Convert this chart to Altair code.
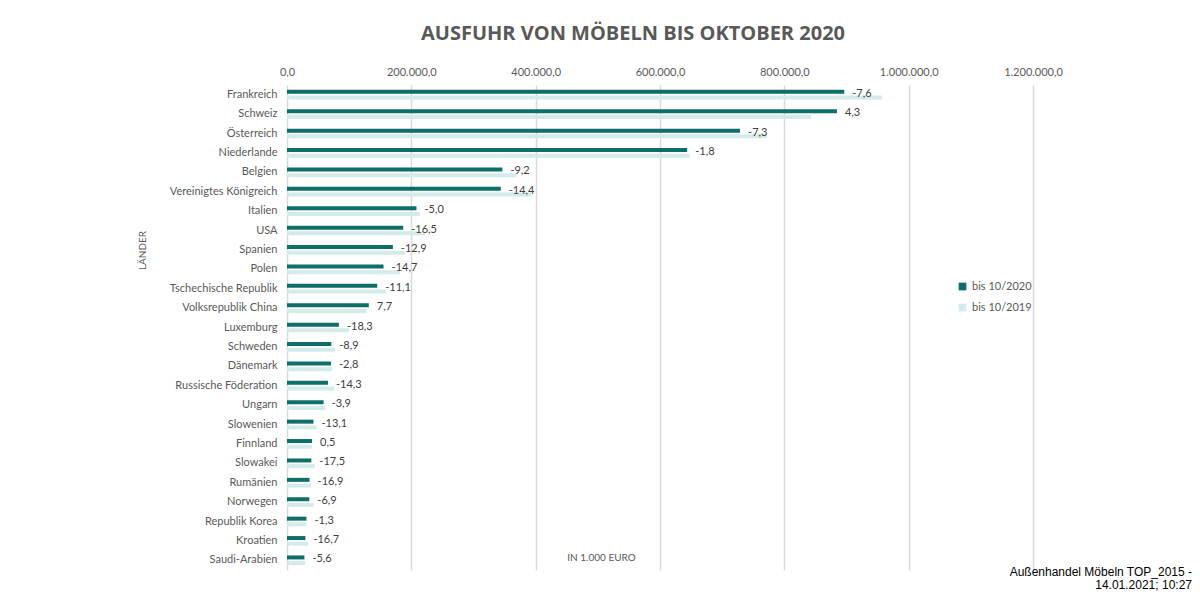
import altair as alt
import pandas as pd

countries = ["Frankreich", "Schweiz", "Österreich", "Niederlande", "Belgien",
             "Vereinigtes Königreich", "Italien", "USA", "Spanien", "Polen",
             "Tschechische Republik", "Volksrepublik China", "Luxemburg", "Schweden",
             "Dänemark", "Russische Föderation", "Ungarn", "Slowenien", "Finnland",
             "Slowakei", "Rumänien", "Norwegen", "Republik Korea", "Kroatien",
             "Saudi-Arabien"]
exports_2020 = [896400, 884600, 728800, 643700, 346500, 343800, 208300, 186900,
                170300, 155300, 145100, 131700, 83500, 71200, 70700, 65900, 58900,
                42600, 40300, 39200, 36300, 35900, 31300, 29600, 28000]
exports_2019 = [956900, 842900, 772200, 647400, 369000, 393000, 214000, 222000,
                190000, 181500, 159000, 128000, 99600, 77100, 72700, 76000, 61300,
                47700, 40100, 44800, 38500, 42600, 31700, 34100, 29600]
change_pct = [-7.6, 4.3, -7.3, -1.8, -9.2, -14.4, -5.0, -16.5, -12.9, -14.7, -11.1,
              7.7, -18.3, -8.9, -2.8, -14.3, -3.9, -13.1, 0.5, -17.5, -16.9, -6.9,
              -1.3, -16.7, -5.6]
series = ["bis 10/2020", "bis 10/2019"]
x_ticks = [0, 200000, 400000, 600000, 800000, 1000000, 1200000]
footer_lines = ["Außenhandel Möbeln TOP_2015 -", "14.01.2021; 10:27"]

rows = []
for c, v20, v19, p in zip(countries, exports_2020, exports_2019, change_pct):
    rows.append({"Land": c, "Zeitraum": series[0], "Wert": v20, "Veraenderung": p})
    rows.append({"Land": c, "Zeitraum": series[1], "Wert": v19, "Veraenderung": p})
df = pd.DataFrame(rows)

grey = "#595959"
font = "Lato"

y_enc = alt.Y("Land:N", sort=countries,
              scale=alt.Scale(paddingInner=0.5, paddingOuter=0.25),
              axis=alt.Axis(title="LÄNDER", titleFont=font, titleFontSize=10,
                            titleFontWeight="normal", titleColor=grey,
                            titleX=-140, titleY=165, titleAngle=-90,
                            labelFont=font, labelFontSize=11, labelColor=grey,
                            labelPadding=10, ticks=False, domain=False))

bars = alt.Chart(df).mark_bar().encode(
    x=alt.X("Wert:Q", scale=alt.Scale(domain=[0, 1200000], nice=False),
            axis=alt.Axis(orient="top", values=x_ticks, format=",.1f",
                          title="IN 1.000 EURO", titleFont=font, titleFontSize=10,
                          titleFontWeight="normal", titleColor=grey,
                          titleX=314, titleY=477, titleAlign="center",
                          labelFont=font, labelFontSize=11, labelColor=grey,
                          labelPadding=8, labelFlush=False, ticks=False,
                          domain=False, grid=True, gridColor="#d9d9d9",
                          gridWidth=1.5)),
    y=y_enc,
    yOffset=alt.YOffset("Zeitraum:N", sort=series,
                        scale=alt.Scale(paddingInner=0.3, paddingOuter=0)),
    color=alt.Color("Zeitraum:N", sort=series,
                    scale=alt.Scale(domain=series, range=["#0e6e69", "#d3ebea"]),
                    legend=alt.Legend(title=None, orient="none", legendX=670,
                                      legendY=196, symbolType="square",
                                      symbolSize=60, labelFont=font,
                                      labelFontSize=11, labelColor=grey,
                                      rowPadding=9)),
)

labels = alt.Chart(df).transform_filter(
    alt.datum.Zeitraum == series[0]
).mark_text(align="left", baseline="middle", dx=8, dy=-1, font=font,
            fontSize=11, color="#404040").encode(
    x="Wert:Q",
    y=alt.Y("Land:N", sort=countries),
    text=alt.Text("Veraenderung:Q", format=".1f"),
)

footer = alt.Chart(pd.DataFrame({"t": ["|".join(footer_lines)]})).mark_text(
    align="right", baseline="alphabetic", lineBreak="|", font="Liberation Sans",
    fontSize=12, color="#000000", lineHeight=13
).encode(x=alt.value(905), y=alt.value(491), text="t:N")

chart = alt.layer(bars, labels, footer).properties(
    width=746, height=485,
    autosize=alt.AutoSizeParams(type="none"),
    padding={"left": 279, "top": 77, "right": 159, "bottom": 22},
    title=alt.TitleParams("AUSFUHR VON MÖBELN BIS OKTOBER 2020", font="Open Sans",
                          fontSize=20, fontWeight="bold", color=grey,
                          anchor="middle", dx=-27, offset=22),
    background="white",
).configure(
    view={"stroke": None},
    locale={"number": {"decimal": ",", "thousands": ".", "grouping": [3],
                       "currency": ["", " €"], "minus": "-"}},
)

chart.save("out.html", embed_options={"renderer": "svg", "actions": False})
